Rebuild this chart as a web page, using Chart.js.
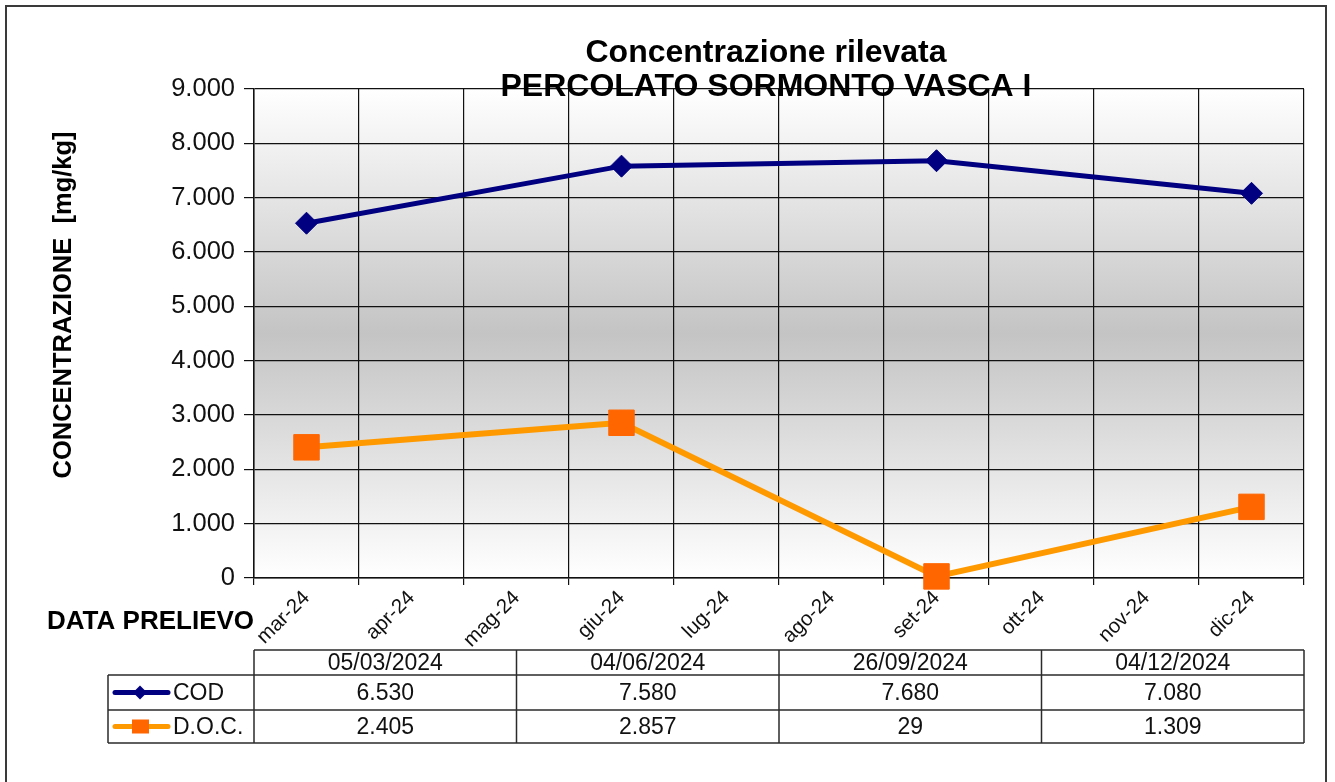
<!DOCTYPE html>
<html lang="it">
<head>
<meta charset="utf-8">
<title>Concentrazione rilevata - Percolato Sormonto Vasca I</title>
<script src="https://cdn.jsdelivr.net/npm/chart.js@4.4.1/dist/chart.umd.min.js"></script>
<style>
  html, body { margin: 0; padding: 0; background: #ffffff; }
  #wrap { position: relative; width: 1335px; height: 782px; }
  canvas { display: block; }
</style>
</head>
<body>
<div id="wrap"><canvas id="chart" width="1335" height="782"></canvas></div>
<script>
// Months shown on the horizontal axis
const months = ['mar-24', 'apr-24', 'mag-24', 'giu-24', 'lug-24', 'ago-24', 'set-24', 'ott-24', 'nov-24', 'dic-24'];
// Sampling dates (dd/mm/yyyy) and the month each one falls into
const sampleDates = ['05/03/2024', '04/06/2024', '26/09/2024', '04/12/2024'];
const sampleMonths = ['mar-24', 'giu-24', 'set-24', 'dic-24'];
// Measured concentrations [mg/kg]
const codValues = [6530, 7580, 7680, 7080];
const docValues = [2405, 2857, 29, 1309];
// Vertical axis ticks
const yTicks = [0, 1000, 2000, 3000, 4000, 5000, 6000, 7000, 8000, 9000];

const FONT = '"Liberation Sans", Arial, Helvetica, sans-serif';
const COD_COLOR = '#000080';
const DOC_LINE = '#FF9900';
const DOC_MARK = '#FF6600';

// Italian number format: dot as thousands separator
function fmt(n) {
  return String(n).replace(/\B(?=(\d{3})+(?!\d))/g, '.');
}

function toPoints(values) {
  return values.map((v, i) => ({ x: sampleMonths[i], y: v }));
}

// Plot background (vertical grey gradient) and outer frame
const backgroundPlugin = {
  id: 'plotBackground',
  beforeDraw(chart) {
    const { ctx, chartArea: a } = chart;
    ctx.save();
    ctx.fillStyle = '#ffffff';
    ctx.fillRect(0, 0, chart.width, chart.height);
    const g = ctx.createLinearGradient(0, a.top, 0, a.bottom);
    g.addColorStop(0, '#ffffff');
    g.addColorStop(0.5, '#c4c4c4');
    g.addColorStop(1, '#ffffff');
    ctx.fillStyle = g;
    ctx.fillRect(a.left, a.top, a.right - a.left, a.bottom - a.top);
    ctx.restore();
  },
  afterDraw(chart) {
    const ctx = chart.ctx;
    ctx.save();
    ctx.strokeStyle = '#3a3a3a';
    ctx.lineWidth = 2;
    ctx.strokeRect(6, 6, 1320, 800);
    ctx.restore();
  }
};

// Titles, axis captions and the data table under the chart
const annotationsPlugin = {
  id: 'annotations',
  afterDraw(chart) {
    const { ctx, chartArea: a } = chart;
    ctx.save();
    ctx.fillStyle = '#000000';

    // Chart title (two lines)
    ctx.textAlign = 'center';
    ctx.textBaseline = 'alphabetic';
    ctx.font = 'bold 32px ' + FONT;
    ctx.fillText('Concentrazione rilevata', 766, 62);
    ctx.fillText('PERCOLATO SORMONTO VASCA I', 766, 96);

    // Vertical axis caption
    ctx.save();
    ctx.translate(64, 305);
    ctx.rotate(-Math.PI / 2);
    ctx.font = 'bold 25.5px ' + FONT;
    ctx.textAlign = 'center';
    ctx.textBaseline = 'middle';
    ctx.fillText('CONCENTRAZIONE  [mg/kg]', 0, 0);
    ctx.restore();

    // Horizontal axis caption
    ctx.font = 'bold 26px ' + FONT;
    ctx.textAlign = 'left';
    ctx.textBaseline = 'middle';
    ctx.fillText('DATA PRELIEVO', 47, 622);

    // Data table
    const left = a.left, right = a.right;
    const colW = (right - left) / sampleDates.length;
    const rowTop = 650, rowH0 = 675, rowH1 = 710, rowBottom = 743;
    const legendLeft = 108;

    ctx.strokeStyle = '#2b2b2b';
    ctx.lineWidth = 1.5;
    ctx.beginPath();
    // horizontal lines
    ctx.moveTo(left, rowTop); ctx.lineTo(right, rowTop);
    ctx.moveTo(legendLeft, rowH0); ctx.lineTo(right, rowH0);
    ctx.moveTo(legendLeft, rowH1); ctx.lineTo(right, rowH1);
    ctx.moveTo(legendLeft, rowBottom); ctx.lineTo(right, rowBottom);
    // vertical lines
    ctx.moveTo(legendLeft, rowH0); ctx.lineTo(legendLeft, rowBottom);
    for (let i = 0; i <= sampleDates.length; i++) {
      const x = left + i * colW;
      ctx.moveTo(x, rowTop); ctx.lineTo(x, rowBottom);
    }
    ctx.stroke();

    ctx.font = '23px ' + FONT;
    ctx.textAlign = 'center';
    ctx.textBaseline = 'middle';
    ctx.fillStyle = '#111111';
    for (let i = 0; i < sampleDates.length; i++) {
      const cx = left + (i + 0.5) * colW;
      ctx.fillText(sampleDates[i], cx, (rowTop + rowH0) / 2 + 1);
      ctx.fillText(fmt(codValues[i]), cx, (rowH0 + rowH1) / 2 + 1);
      ctx.fillText(fmt(docValues[i]), cx, (rowH1 + rowBottom) / 2 + 1);
    }

    // Legend keys inside the table
    const yCod = (rowH0 + rowH1) / 2, yDoc = (rowH1 + rowBottom) / 2;
    ctx.lineCap = 'round';
    ctx.lineWidth = 5;
    ctx.strokeStyle = COD_COLOR;
    ctx.beginPath(); ctx.moveTo(115, yCod); ctx.lineTo(168, yCod); ctx.stroke();
    ctx.fillStyle = COD_COLOR;
    ctx.beginPath();
    ctx.moveTo(140, yCod - 7); ctx.lineTo(147, yCod); ctx.lineTo(140, yCod + 7); ctx.lineTo(133, yCod);
    ctx.closePath(); ctx.fill();

    ctx.strokeStyle = DOC_LINE;
    ctx.beginPath(); ctx.moveTo(115, yDoc); ctx.lineTo(168, yDoc); ctx.stroke();
    ctx.fillStyle = DOC_MARK;
    ctx.fillRect(132, yDoc - 7, 17, 14);

    ctx.fillStyle = '#111111';
    ctx.textAlign = 'left';
    ctx.fillText('COD', 173, yCod + 1);
    ctx.fillText('D.O.C.', 173, yDoc + 1);

    ctx.restore();
  }
};

new Chart(document.getElementById('chart'), {
  type: 'line',
  data: {
    labels: months,
    datasets: [
      {
        label: 'COD',
        data: toPoints(codValues),
        borderColor: COD_COLOR,
        backgroundColor: COD_COLOR,
        borderWidth: 5,
        pointStyle: 'rectRot',
        pointRadius: 11,
        pointHoverRadius: 11,
        pointBackgroundColor: COD_COLOR,
        pointBorderColor: COD_COLOR,
        pointBorderWidth: 1,
        tension: 0,
        clip: false
      },
      {
        label: 'D.O.C.',
        data: toPoints(docValues),
        borderColor: DOC_LINE,
        backgroundColor: DOC_MARK,
        borderWidth: 6,
        pointStyle: 'rect',
        pointRadius: 18,
        pointHoverRadius: 18,
        pointBackgroundColor: DOC_MARK,
        pointBorderColor: DOC_MARK,
        pointBorderWidth: 1,
        tension: 0,
        clip: false
      }
    ]
  },
  options: {
    responsive: false,
    animation: false,
    events: [],
    layout: { padding: { left: 0, top: 89, right: 31, bottom: 0 } },
    plugins: {
      legend: { display: false },
      title: { display: false },
      tooltip: { enabled: false }
    },
    scales: {
      x: {
        type: 'category',
        offset: true,
        grid: {
          offset: true,
          color: '#111111',
          lineWidth: 1.2,
          drawTicks: true,
          tickLength: 7,
          tickColor: '#111111'
        },
        border: { color: '#111111', width: 1.5 },
        ticks: {
          autoSkip: false,
          maxRotation: 45,
          minRotation: 45,
          padding: 1,
          color: '#111111',
          font: { family: FONT, size: 20.5 }
        },
        afterFit(scale) {
          scale.height = 204;
          scale.paddingLeft = 0;
          scale.paddingRight = 0;
        }
      },
      y: {
        min: 0,
        max: 9000,
        afterBuildTicks(scale) {
          scale.ticks = yTicks.map(v => ({ value: v }));
        },
        grid: {
          color: '#111111',
          lineWidth: 1.2,
          tickLength: 10,
          tickColor: '#111111'
        },
        border: { color: '#111111', width: 1.5 },
        ticks: {
          padding: 9,
          color: '#111111',
          font: { family: FONT, size: 25.5 },
          callback: v => fmt(v)
        },
        afterFit(scale) {
          scale.width = 254;
          scale.paddingTop = 0;
          scale.paddingBottom = 0;
        }
      }
    }
  },
  plugins: [backgroundPlugin, annotationsPlugin]
});
</script>
</body>
</html>
